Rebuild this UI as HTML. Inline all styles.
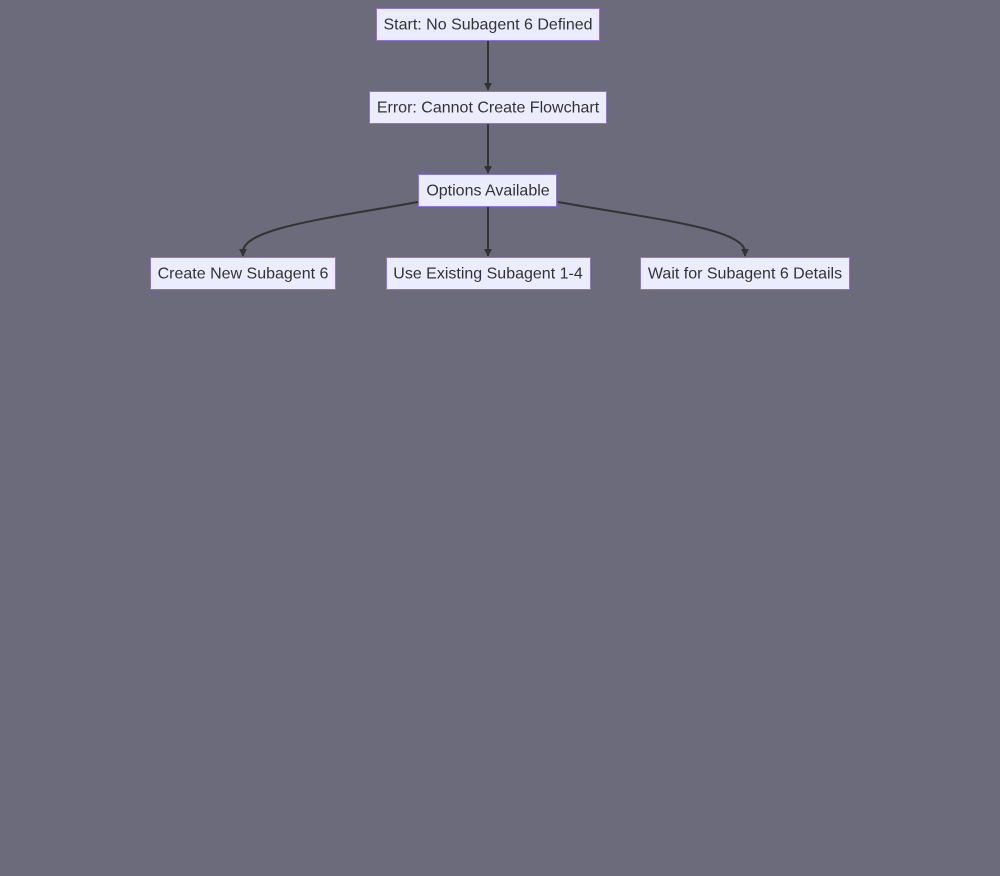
<!DOCTYPE html>
<html><head><style>
html,body{margin:0;padding:0;background:#6b6b7b;width:1000px;height:876px;overflow:hidden}
text{font-family:"Liberation Sans",sans-serif;font-size:16px;fill:#333;text-anchor:middle;dominant-baseline:central}
rect{fill:#ececff;stroke:#9370db;stroke-width:1}
path{stroke:#333;stroke-width:2;fill:none}
</style></head><body>
<svg width="1000" height="876" xmlns="http://www.w3.org/2000/svg">
<defs><marker id="a" viewBox="0 0 10 10" refX="9" refY="5" markerWidth="4" markerHeight="4" orient="auto"><path d="M0,0L10,5L0,10z" style="fill:#333;stroke:none"/></marker></defs>
<path d="M488,41V90" marker-end="url(#a)"/>
<path d="M488,124V173" marker-end="url(#a)"/>
<path d="M488,207V256" marker-end="url(#a)"/>
<path d="M418,202C330,218 243,228 243,252V256" marker-end="url(#a)"/>
<path d="M558,202C646,218 745,228 745,252V256" marker-end="url(#a)"/>
<rect x="376.5" y="8.5" width="223" height="32"/><text x="488" y="25">Start: No Subagent 6 Defined</text>
<rect x="369.5" y="91.5" width="237" height="32"/><text x="488" y="108">Error: Cannot Create Flowchart</text>
<rect x="418.5" y="174.5" width="138" height="32"/><text x="488" y="191">Options Available</text>
<rect x="150.5" y="257.5" width="185" height="32"/><text x="243" y="274">Create New Subagent 6</text>
<rect x="386.5" y="257.5" width="204" height="32"/><text x="488" y="274">Use Existing Subagent 1-4</text>
<rect x="640.5" y="257.5" width="209" height="32"/><text x="745" y="274">Wait for Subagent 6 Details</text>
</svg>
</body></html>
